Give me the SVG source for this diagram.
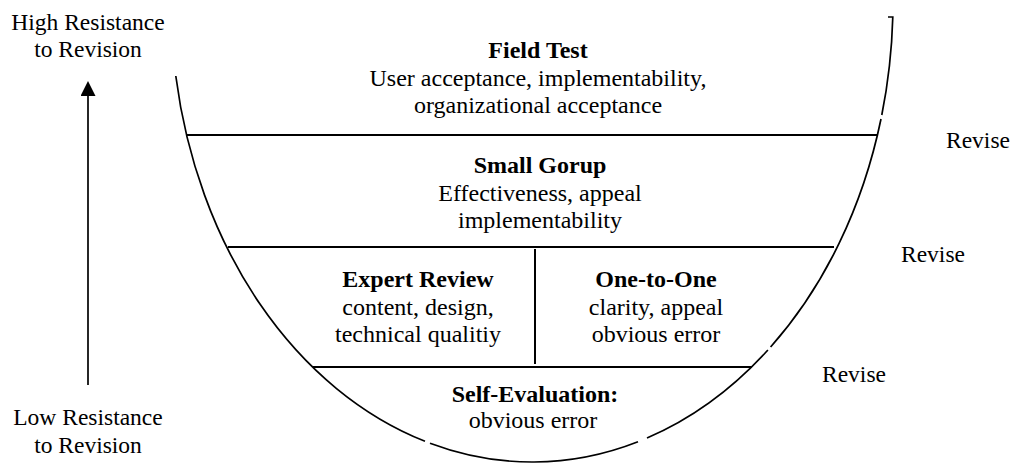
<svg xmlns="http://www.w3.org/2000/svg" width="1016" height="464" viewBox="0 0 1016 464">
  <style>
    .txt { font-family: "Liberation Serif", "Times New Roman", serif; font-size: 24px; fill: #000; text-anchor: middle; }
    .side { font-size: 23.5px; }
    .rev { font-family: "Liberation Serif", "Times New Roman", serif; font-size: 23.5px; fill: #000; text-anchor: start; }
    .b { font-weight: bold; }
    .edge { fill: none; stroke: #000; stroke-width: 1.7; }
    .rule { fill: none; stroke: #000; stroke-width: 2; }
  </style>
  <defs>
    <marker id="head" viewBox="0 0 15 15" refX="1" refY="7.5" markerWidth="15" markerHeight="15" markerUnits="userSpaceOnUse" orient="auto">
      <path d="M0,0 L15,7.5 L0,15 z" fill="#000"/>
    </marker>
  </defs>

  <!-- bowl outline, drawn in segments with small breaks -->
  <g id="bowl">
    <path class="edge" d="M175.8,76 A361,461 0 0 0 425,441.3"/>
    <path class="edge" d="M430,443.2 A361,461 0 0 0 638,441.7"/>
    <path class="edge" d="M647,438 A361,461 0 0 0 767.9,350"/>
    <path class="edge" d="M770.6,347 A361,461 0 0 0 881,119"/>
    <path class="edge" d="M881.8,115 A361,461 0 0 0 892.8,17 L888,17"/>
    <!-- level dividers -->
    <line class="rule" x1="187" y1="135" x2="878" y2="135"/>
    <line class="rule" x1="228" y1="247" x2="834" y2="247"/>
    <line class="rule" x1="313" y1="367" x2="752" y2="367"/>
    <line class="rule" x1="535" y1="249" x2="535" y2="364"/>
  </g>

  <g id="field-test">
    <text class="txt b" x="538" y="58">Field Test</text>
    <text class="txt" x="538" y="85.5">User acceptance, implementability,</text>
    <text class="txt" x="538" y="113">organizational acceptance</text>
  </g>

  <g id="small-group">
    <text class="txt b" x="540" y="173">Small Gorup</text>
    <text class="txt" x="540" y="200.5">Effectiveness, appeal</text>
    <text class="txt" x="540" y="228">implementability</text>
  </g>

  <g id="expert-review">
    <text class="txt b" x="418" y="287">Expert Review</text>
    <text class="txt" x="418" y="314.5">content, design,</text>
    <text class="txt" x="418" y="342">technical qualitiy</text>
  </g>

  <g id="one-to-one">
    <text class="txt b" x="656" y="287">One-to-One</text>
    <text class="txt" x="656" y="314.5">clarity, appeal</text>
    <text class="txt" x="656" y="342">obvious error</text>
  </g>

  <g id="self-evaluation">
    <text class="txt b" x="535" y="402">Self-Evaluation:</text>
    <text class="txt" x="533" y="428">obvious error</text>
  </g>

  <g id="high-resistance">
    <text class="txt side" x="88" y="30">High Resistance</text>
    <text class="txt side" x="88" y="57">to Revision</text>
  </g>

  <g id="low-resistance">
    <text class="txt side" x="88" y="425">Low Resistance</text>
    <text class="txt side" x="88" y="453">to Revision</text>
  </g>

  <g id="revise-labels">
    <text class="rev" x="946" y="148">Revise</text>
    <text class="rev" x="901" y="262">Revise</text>
    <text class="rev" x="822" y="382">Revise</text>
  </g>

  <g id="connectors">
    <line x1="88" y1="385" x2="88" y2="95" stroke="#000" stroke-width="1.7" marker-end="url(#head)"/>
  </g>
</svg>
